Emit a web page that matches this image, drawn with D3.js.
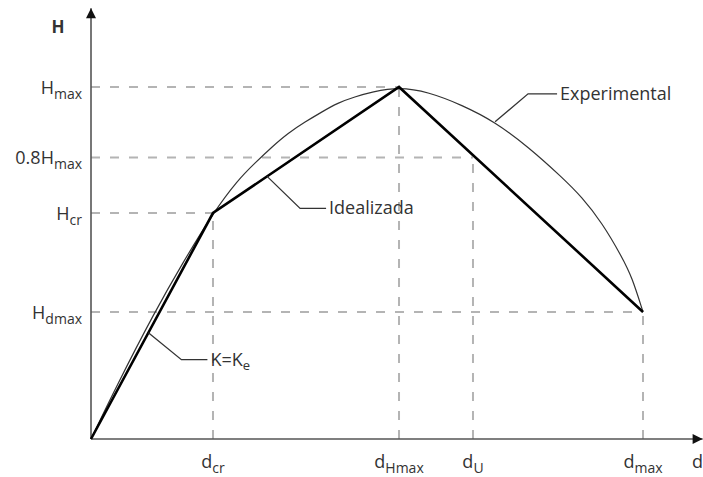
<!DOCTYPE html>
<html>
<head>
<meta charset="utf-8">
<script src="https://cdn.jsdelivr.net/npm/d3@7"></script>
<style>
  body { margin: 0; background: #fff; }
  text { font-family: "Open Sans", "Noto Sans", sans-serif; fill: #333; }
</style>
</head>
<body>
<svg id="chart" width="703" height="477"></svg>
<script>
// Data in relative units (d: 0..100 = dmax, H: 0..100 = Hmax)
var yLevels = [
  { main: "H", sub: "max", value: 100, dTo: 55.8 },
  { main: "0.8H", sub: "max", value: 80, dTo: 69.2 },
  { main: "H", sub: "cr", value: 64.2, dTo: 22.1 },
  { main: "H", sub: "dmax", value: 36.1, dTo: 100 }
];
var xLevels = [
  { main: "d", sub: "cr", value: 22.1, hTo: 64.2 },
  { main: "d", sub: "Hmax", value: 55.8, hTo: 100 },
  { main: "d", sub: "U", value: 69.2, hTo: 80 },
  { main: "d", sub: "max", value: 100, hTo: 36.1 }
];

// idealised trilinear curve
var idealD = [0, 22.1, 55.8, 100];
var idealH = [0, 64.2, 100, 36.1];

// experimental curve
var expD = [0, 4.6, 11.5, 16.6, 22.1, 26.6, 29.7, 32.8, 35.7, 38.8, 41.8, 44.7, 47.8, 50.9, 55.8,
            61.1, 67.2, 73.2, 79.2, 85.3, 88.9, 92.6, 96.2, 98.0, 100];
var expH = [0, 15, 36, 50, 64.2, 73.6, 78.4, 83.0, 86.9, 90.1, 92.9, 95.5, 97.2, 98.6, 100,
            98.6, 94.9, 90.1, 83.0, 74.4, 68.8, 61.4, 51.7, 46.0, 36.1];

var svg = d3.select("#chart");

var x = d3.scaleLinear().domain([0, 100]).range([91, 643]);
var y = d3.scaleLinear().domain([0, 100]).range([439, 87]);

// arrow heads
var defs = svg.append("defs");
defs.append("marker")
    .attr("id", "arrow")
    .attr("viewBox", "0 0 10 10")
    .attr("refX", 10).attr("refY", 5)
    .attr("markerWidth", 14).attr("markerHeight", 10)
    .attr("markerUnits", "userSpaceOnUse")
    .attr("orient", "auto")
    .append("path")
    .attr("d", "M0,0L10,5L0,10Z")
    .attr("fill", "#111");

// dashed guide lines
var guides = svg.append("g")
    .attr("stroke", "#b4b4b4")
    .attr("stroke-width", 2)
    .attr("stroke-dasharray", "9,10")
    .attr("fill", "none");

guides.selectAll(".hguide")
    .data(yLevels)
    .enter().append("line")
    .attr("x1", x(0)).attr("x2", function (d) { return x(d.dTo); })
    .attr("y1", function (d) { return y(d.value); })
    .attr("y2", function (d) { return y(d.value); });

guides.selectAll(".vguide")
    .data(xLevels)
    .enter().append("line")
    .attr("y1", y(0)).attr("y2", function (d) { return y(d.hTo); })
    .attr("x1", function (d) { return x(d.value); })
    .attr("x2", function (d) { return x(d.value); });

// axes
svg.append("line")
    .attr("x1", x(0)).attr("y1", y(0))
    .attr("x2", x(110.8)).attr("y2", y(0))
    .attr("stroke", "#555").attr("stroke-width", 1.6)
    .attr("marker-end", "url(#arrow)");
svg.append("line")
    .attr("x1", x(0)).attr("y1", y(0))
    .attr("x2", x(0)).attr("y2", y(122.4))
    .attr("stroke", "#555").attr("stroke-width", 1.6)
    .attr("marker-end", "url(#arrow)");

// experimental curve
var expLine = d3.line()
    .x(function (d) { return x(d[0]); })
    .y(function (d) { return y(d[1]); })
    .curve(d3.curveBasis);

svg.append("path")
    .datum(d3.zip(expD, expH))
    .attr("d", expLine)
    .attr("fill", "none")
    .attr("stroke", "#333")
    .attr("stroke-width", 1.2);

// idealised
svg.append("path")
    .datum(d3.zip(idealD, idealH))
    .attr("d", d3.line().x(function (d) { return x(d[0]); }).y(function (d) { return y(d[1]); }))
    .attr("fill", "none")
    .attr("stroke", "#000")
    .attr("stroke-width", 2.6)
    .attr("stroke-linejoin", "miter");

// callouts
function idealAt(d) {
    var i = d <= idealD[1] ? 0 : (d <= idealD[2] ? 1 : 2);
    var t = (d - idealD[i]) / (idealD[i + 1] - idealD[i]);
    return idealH[i] + t * (idealH[i + 1] - idealH[i]);
}
var callouts = [
    { text: "Experimental", sub: "", d: 73.2, h: 90.1, dx: 33, dy: -28, len: 29 },
    { text: "Idealizada", sub: "", d: 31.9, h: idealAt(31.9), dx: 33, dy: 32, len: 26 },
    { text: "K=K", sub: "e", d: 10.4, h: idealAt(10.4), dx: 33, dy: 27, len: 26 }
];

callouts.forEach(function (c) {
    var x0 = x(c.d), y0 = y(c.h);
    svg.append("polyline")
        .attr("points", [[x0, y0], [x0 + c.dx, y0 + c.dy], [x0 + c.dx + c.len, y0 + c.dy]].join(" "))
        .attr("fill", "none")
        .attr("stroke", "#333")
        .attr("stroke-width", 1.3);
    var t = svg.append("text")
        .attr("x", x0 + c.dx + c.len + 3)
        .attr("y", y0 + c.dy + 6)
        .attr("font-size", 18)
        .text(c.text);
    if (c.sub) {
        t.append("tspan").attr("font-size", 13).attr("dy", 4).text(c.sub);
    }
});

// y labels
var yl = svg.selectAll(".ylab")
    .data(yLevels)
    .enter().append("text")
    .attr("x", 82)
    .attr("y", function (d) { return y(d.value) + 7; })
    .attr("text-anchor", "end")
    .attr("font-size", 18);
yl.append("tspan").text(function (d) { return d.main; });
yl.append("tspan").attr("font-size", 14).attr("dy", 5).text(function (d) { return d.sub; });

// x labels
var xl = svg.selectAll(".xlab")
    .data(xLevels)
    .enter().append("text")
    .attr("x", function (d) { return x(d.value); })
    .attr("y", 468)
    .attr("text-anchor", "middle")
    .attr("font-size", 18);
xl.append("tspan").text(function (d) { return d.main; });
xl.append("tspan").attr("font-size", 14).attr("dy", 5).text(function (d) { return d.sub; });

// axis titles
svg.append("text")
    .attr("x", 58).attr("y", 33)
    .attr("text-anchor", "middle")
    .attr("font-size", 17)
    .attr("font-weight", "bold")
    .text("H");
svg.append("text")
    .attr("x", 692).attr("y", 468)
    .attr("font-size", 18)
    .text("d");
</script>
</body>
</html>
